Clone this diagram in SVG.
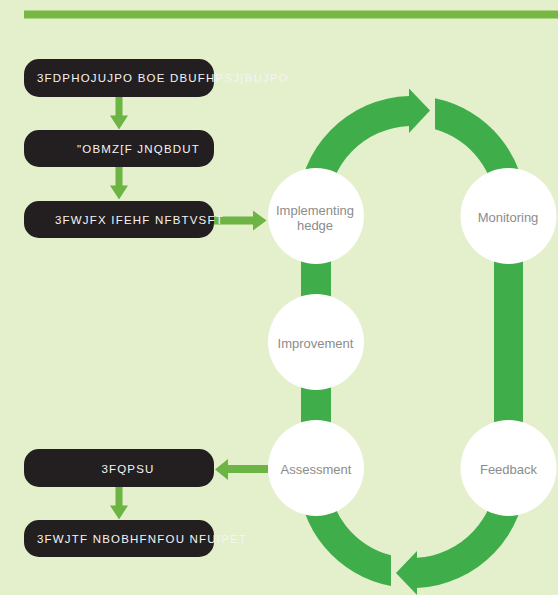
<svg xmlns="http://www.w3.org/2000/svg" width="558" height="595" viewBox="0 0 558 595">
  <defs>
    <style>
      .bg { fill: #e4efcc; }
      .bar { fill: #76b843; }
      .box { fill: #231f20; }
      .boxtext { fill: #f4f4f4; font-family: "Liberation Sans", Arial, sans-serif; font-size: 11.5px; letter-spacing: 1.2px; }
      .step { fill: #6cb444; }
      .loop { fill: #3fae4a; }
      .stage { fill: #ffffff; }
      .stagetext { fill: #8c8c8c; font-family: "Liberation Sans", Arial, sans-serif; font-size: 13px; text-anchor: middle; }
    </style>
  </defs>

  <rect class="bg" x="0" y="0" width="558" height="595"/>
  <rect class="bar" x="24" y="10.5" width="534" height="8"/>

  <!-- cycle band and small step arrows -->
  <g id="connectors">
    <!-- vertical bands on both sides of the cycle -->
    <rect class="loop" x="301" y="216" width="30" height="252"/>
    <rect class="loop" x="494" y="216" width="29" height="252"/>
    <!-- upper arc with arrowhead pointing right -->
    <path class="loop" d="M 298 210 A 114 114 0 0 1 409 96.04 L 409 126.05 A 84 84 0 0 0 328 210 Z"/>
    <polygon class="loop" points="409,88.5 430,110.5 409,133"/>
    <path class="loop" d="M 435 98.3 A 114 114 0 0 1 526 210 L 496 210 A 84 84 0 0 0 435 129.2 Z"/>
    <!-- lower arc with arrowhead pointing left -->
    <path class="loop" d="M 298 474 A 114 114 0 0 0 391 586.05 L 391 555.3 A 84 84 0 0 1 328 474 Z"/>
    <polygon class="loop" points="417,551 396,573 417,595"/>
    <path class="loop" d="M 417 587.9 A 114 114 0 0 0 526 474 L 496 474 A 84 84 0 0 1 417 557.85 Z"/>

    <!-- step arrows between boxes -->
    <path class="step" d="M 115.5 96 H 122.5 V 115.5 H 128 L 119 129.5 L 110 115.5 H 115.5 Z"/>
    <path class="step" d="M 115.5 166 H 122.5 V 185.5 H 128 L 119 199.5 L 110 185.5 H 115.5 Z"/>
    <path class="step" d="M 115.5 486 H 122.5 V 505.5 H 128 L 119 519.5 L 110 505.5 H 115.5 Z"/>
    <!-- box to cycle -->
    <path class="step" d="M 212 216.5 H 253 V 210.5 L 266.5 220.5 L 253 230.5 V 224.5 H 212 Z"/>
    <!-- cycle to box -->
    <path class="step" d="M 268 465 H 228 V 459 L 215 469.5 L 228 480 V 473 H 268 Z"/>
  </g>

  <g id="box-recognition">
    <rect class="box" x="24" y="59" width="190" height="38" rx="15"/>
    <text class="boxtext" x="37" y="81.5">3FDPHOJUJPO BOE DBUFHPSJ[BUJPO</text>
  </g>
  <g id="box-analyze">
    <rect class="box" x="24" y="130" width="190" height="37" rx="15"/>
    <text class="boxtext" x="77" y="152.5">"OBMZ[F JNQBDUT</text>
  </g>
  <g id="box-review">
    <rect class="box" x="24" y="201" width="190" height="37" rx="15"/>
    <text class="boxtext" x="55" y="224">3FWJFX IFEHF NFBTVSFT</text>
  </g>
  <g id="box-report">
    <rect class="box" x="24" y="449" width="190" height="38" rx="15"/>
    <text class="boxtext" x="128" y="473" text-anchor="middle">3FQPSU</text>
  </g>
  <g id="box-revise">
    <rect class="box" x="24" y="520" width="190" height="37" rx="15"/>
    <text class="boxtext" x="37" y="543">3FWJTF NBOBHFNFOU NFUIPET</text>
  </g>

  <g id="stage-implementing">
    <circle class="stage" cx="316" cy="216" r="48"/>
    <text class="stagetext" x="315" y="214.5">Implementing</text>
    <text class="stagetext" x="315" y="230">hedge</text>
  </g>
  <g id="stage-monitoring">
    <circle class="stage" cx="508.5" cy="216" r="48"/>
    <text class="stagetext" x="508" y="222">Monitoring</text>
  </g>
  <g id="stage-improvement">
    <circle class="stage" cx="316" cy="342" r="48"/>
    <text class="stagetext" x="315.5" y="347.5">Improvement</text>
  </g>
  <g id="stage-assessment">
    <circle class="stage" cx="316" cy="468" r="48"/>
    <text class="stagetext" x="316" y="474">Assessment</text>
  </g>
  <g id="stage-feedback">
    <circle class="stage" cx="508.5" cy="468" r="48"/>
    <text class="stagetext" x="508.5" y="474">Feedback</text>
  </g>
</svg>
